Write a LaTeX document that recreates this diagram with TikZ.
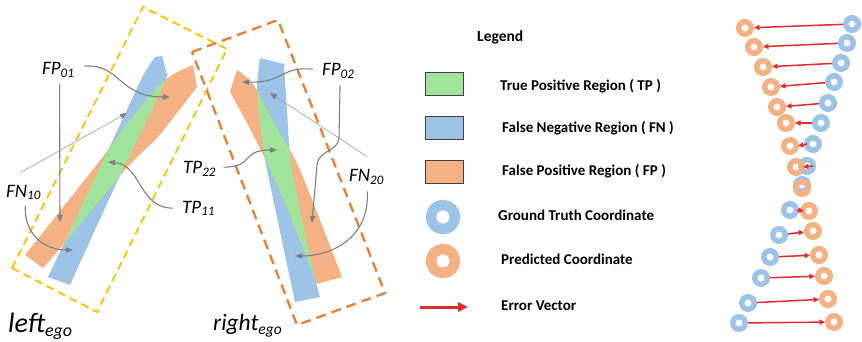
\documentclass[tikz,border=0pt]{standalone}
\usepackage{fontspec}
\setmainfont{Carlito}
\usetikzlibrary{arrows.meta}
\definecolor{bandblue}{HTML}{9DC3E6}
\definecolor{bandorange}{HTML}{F4B183}
\definecolor{tpgreen}{HTML}{9FE49A}
\definecolor{boxgold}{HTML}{FFC000}
\definecolor{boxorange}{HTML}{ED7D31}
\definecolor{errred}{HTML}{E32B2B}
\definecolor{callout}{HTML}{7F7F7F}
\definecolor{calloutlight}{HTML}{A6A6A6}
\newcommand\lblsub[2]{\fontsize{19}{19}\selectfont\itshape #1\raisebox{-2.5pt}{\fontsize{13}{13}\selectfont #2}}
\newcommand\egosub[4]{\fontsize{#3}{#3}\selectfont\itshape #1\raisebox{-4pt}{\fontsize{#4}{#4}\selectfont #2}}
\newcommand\bandBLpath{plot[smooth,tension=.5] coordinates {(48,277) (95,178) (139,84) (147,69) (155,57)} -- plot[smooth,tension=.5] coordinates {(162,56) (166,72) (164,84) (118,180) (70,285)} -- cycle}
\newcommand\bandOLpath{plot[smooth,tension=.5] coordinates {(193,65) (165,80) (130,120) (98,163) (25,255)} -- plot[smooth,tension=.5] coordinates {(43,268) (63,245) (125,170) (157,138) (177,113) (197,87)} -- cycle}
\newcommand\bandBRpath{plot[smooth,tension=.5] coordinates {(260,58) (257,90) (262,140) (267,170) (295,302)} -- plot[smooth,tension=.5] coordinates {(320,297) (312,265) (292,170) (287,110) (284,64)} -- cycle}
\newcommand\bandORpath{plot[smooth,tension=.5] coordinates {(230,92) (248,125) (268,165) (290,215) (317,284)} -- plot[smooth,tension=.5] coordinates {(342,277) (300,170) (275,125) (253,84) (237,70)} -- cycle}
\begin{document}
\begin{tikzpicture}[x=1pt,y=-1pt,
  callarrow/.style={draw=callout, line width=1.1pt, -{Triangle[length=7pt,width=5.5pt]}},
  thinarrow/.style={draw=calloutlight, line width=0.7pt, -{Triangle[length=7pt,width=5.5pt,color=callout]}},
  goldbox/.style={draw=boxgold, line width=1.8pt, dash pattern=on 8pt off 5pt},
  orangebox/.style={draw=boxorange, line width=2.3pt, dash pattern=on 10pt off 6pt},
  lbl/.style={inner sep=0pt, anchor=base west},
  legtext/.style={inner sep=0pt, anchor=base west, font=\fontsize{15}{15}\selectfont\bfseries},
  legbox/.style={draw=black!75, line width=0.9pt, minimum width=38pt, minimum height=23pt, inner sep=0pt},
  bigring/.style={circle, line width=10.5pt, minimum size=24pt, inner sep=0pt},
  smallring/.style={circle, line width=5.5pt, minimum size=12.5pt, inner sep=0pt},
  errvec/.style={draw=errred, line width=1.5pt, -{Triangle[length=5.5pt,width=5pt]}},
  legarrow/.style={draw=errred, line width=3pt, -{Triangle[length=10pt,width=9pt]}}]
\useasboundingbox (0,0) rectangle (862,342);
% bands
\fill[bandblue] \bandBLpath;
\fill[bandorange] \bandOLpath;
\begin{scope}
  \clip \bandBLpath;
  \fill[tpgreen] \bandOLpath;
\end{scope}
\fill[bandblue] \bandBRpath;
\fill[bandorange] \bandORpath;
\begin{scope}
  \clip \bandBRpath;
  \fill[tpgreen] \bandORpath;
\end{scope}
% dashed frames
\draw[goldbox] (12,268) -- (143,7) -- (227,49) -- (97,312) -- cycle;
\draw[orangebox] (192,52) -- (278,20) -- (385,293) -- (297,325) -- cycle;
% labels
\node[lbl] (fp01) at (42,75) {\lblsub{FP}{01}};
\node[lbl] (fn10) at (6,197) {\lblsub{FN}{10}};
\node[lbl] (tp11) at (182,213) {\lblsub{TP}{11}};
\node[lbl] (tp22) at (183,174) {\lblsub{TP}{22}};
\node[lbl] (fp02) at (322,76) {\lblsub{FP}{02}};
\node[lbl] (fn20) at (349,182) {\lblsub{FN}{20}};
\node[lbl] (lego) at (8,332) {\egosub{left}{ego}{28}{18}};
\node[lbl] (rego) at (213,330) {\egosub{right}{ego}{23.5}{15.5}};
% targets
\coordinate (tfp01a) at (170,97);
\coordinate (tfp01b) at (60,222);
\coordinate (tfn10a) at (127,113);
\coordinate (tfn10b) at (73,250);
\coordinate (ttp11) at (108,162);
\coordinate (tfp02a) at (242,82);
\coordinate (tfp02b) at (312,223);
\coordinate (tfn20a) at (270,93);
\coordinate (tfn20b) at (295,256);
\coordinate (ttp22) at (277,150);
% callouts
\draw[callarrow] ([shift={(10,-4)}]fp01.east) .. controls (120,63) and (118,97) .. (tfp01a);
\draw[callarrow] ([shift={(1.5,6)}]fp01.south) -- (tfp01b);
\draw[thinarrow] ([shift={(-3,-12)}]fn10.north) -- (tfn10a);
\draw[callarrow] ([shift={(2,6)}]fn10.south) .. controls (24,235) and (45,250) .. (tfn10b);
\draw[callarrow] ([shift={(-9,0)}]tp11.west) .. controls (138,208) and (142,165) .. (ttp11);
\draw[callarrow] ([shift={(-9,-2)}]fp02.west) .. controls (280,66) and (285,83) .. (tfp02a);
\draw[callarrow] ([shift={(2,6.5)}]fp02.south) -- (339,138) .. controls (338,152) and (318,150) .. (317,165) -- (tfp02b);
\draw[thinarrow] ([shift={(1,-13)}]fn20.north) -- (tfn20a);
\draw[callarrow] ([shift={(1,6.5)}]fn20.south) .. controls (370,235) and (335,256) .. (tfn20b);
\draw[callarrow] ([shift={(8,-2)}]tp22.east) .. controls (255,167) and (240,150) .. (ttp22);
% legend
\node[inner sep=0pt, anchor=base west, font=\fontsize{15.5}{15.5}\selectfont\bfseries] (legtitle) at (477,41.7) {Legend};
\node[legbox, fill=tpgreen] (kTP) at (444,84) {};
\node[legbox, fill=bandblue] (kFN) at (444.5,127.5) {};
\node[legbox, fill=bandorange] (kFP) at (444.5,172) {};
\node[bigring, draw=bandblue] (kGT) at (443,217) {};
\node[bigring, draw=bandorange] (kPC) at (443,261) {};
\coordinate (kEVa) at (420,307);
\coordinate (kEVb) at (468,307);
\draw[legarrow] (kEVa) -- (kEVb);
\node[legtext] (tTP) at (500,91) {True Positive Region ( TP )};
\node[legtext] (tFN) at (502,132.3) {False Negative Region ( FN )};
\node[legtext] (tFP) at (502,175.7) {False Positive Region ( FP )};
\node[legtext] (tGT) at (498,220) {Ground Truth Coordinate};
\node[legtext] (tPC) at (501,264) {Predicted Coordinate};
\node[legtext] (tEV) at (501,310) {Error Vector};
% coordinate column
\foreach \i/\ox/\oy/\bx/\by in {1/745/28/852/24, 2/754/47/847/43, 3/763/67/841/63, 4/771/87/834/82, 5/777/107/828/103, 6/786/123/821/123, 7/790/146/813/144, 8/796/167/807/166, 9/802/188/802/185, 10/809/211/790/210, 11/813/231/779/235, 12/819/255/770/257, 13/824/276/761/278, 14/828/299/748/303, 15/834/322/739/323}{
  \node[smallring, draw=bandblue] (b\i) at (\bx,\by) {};
}
\foreach \i/\ox/\oy/\bx/\by in {1/745/28/852/24, 2/754/47/847/43, 3/763/67/841/63, 4/771/87/834/82, 5/777/107/828/103, 6/786/123/821/123, 7/790/146/813/144, 8/796/167/807/166, 9/802/188/802/185, 10/809/211/790/210, 11/813/231/779/235, 12/819/255/770/257, 13/824/276/761/278, 14/828/299/748/303, 15/834/322/739/323}{
  \node[smallring, draw=bandorange] (o\i) at (\ox,\oy) {};
}
\foreach \i in {1,2,3,4,5,6,11,12,13,14,15}{
  \draw[errvec] (b\i) -- (o\i);
}
\draw[errvec] ([xshift=-6pt]b7.center) -- ([xshift=8pt]o7.center);
\draw[errvec] ([xshift=6pt]b8.center) -- ([xshift=7pt]o8.center);
\draw[errvec] ([xshift=7pt]b10.center) -- ([xshift=-5pt]o10.center);
\end{tikzpicture}
\end{document}
